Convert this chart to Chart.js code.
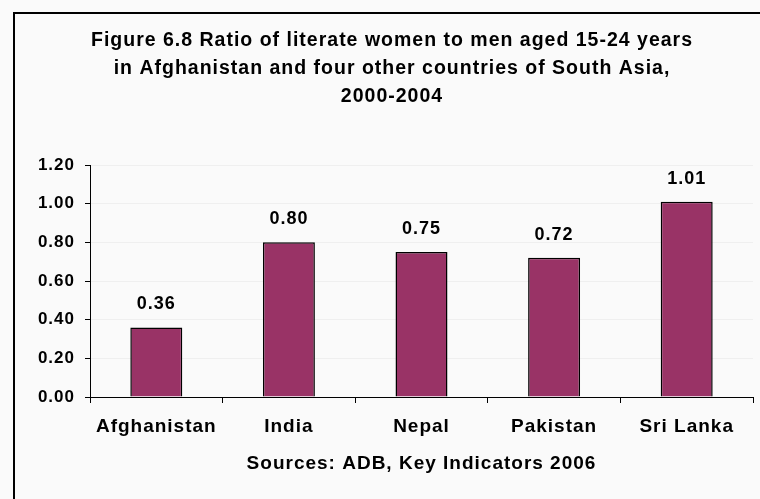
<!DOCTYPE html>
<html><head><meta charset="utf-8">
<script src="https://cdn.jsdelivr.net/npm/chart.js@4.4.1/dist/chart.umd.min.js"></script>
<style>html,body{margin:0;padding:0;background:#fafafa;} #wrap{position:relative;width:760px;height:499px;}</style>
</head><body><div id="wrap"><canvas id="c" width="760" height="499"></canvas></div>
<script>
const categories = ['Afghanistan', 'India', 'Nepal', 'Pakistan', 'Sri Lanka'];
const ratioValues = [0.36, 0.80, 0.75, 0.72, 1.01];
const yTickValues = [0, 0.2, 0.4, 0.6, 0.8, 1.0, 1.2];
const titleLines = [
  'Figure 6.8 Ratio of literate women to men aged 15-24 years',
  'in Afghanistan and four other countries of South Asia,',
  '2000-2004'
];
const sourceText = 'Sources: ADB, Key Indicators 2006';

const FONT = "'Liberation Sans', Arial, sans-serif";
const SPACING = '1px';

const framePlugin = {
  id: 'frame',
  beforeDraw(chart) {
    const ctx = chart.ctx;
    ctx.save();
    ctx.fillStyle = '#fafafa';
    ctx.fillRect(0, 0, chart.width, chart.height);
    ctx.strokeStyle = '#000';
    ctx.lineWidth = 2;
    ctx.strokeRect(14, 13, 900, 700);
    ctx.restore();
    ctx.letterSpacing = SPACING;
  }
};

const valueLabelPlugin = {
  id: 'valueLabels',
  afterDatasetsDraw(chart) {
    const ctx = chart.ctx;
    const meta = chart.getDatasetMeta(0);
    ctx.save();
    ctx.letterSpacing = SPACING;
    ctx.font = 'bold 18px ' + FONT;
    ctx.fillStyle = '#000';
    ctx.textAlign = 'center';
    ctx.textBaseline = 'middle';
    meta.data.forEach((el, i) => {
      const v = chart.data.datasets[0].data[i];
      ctx.fillText(v.toFixed(2), el.x, el.y - 23);
    });
    ctx.restore();
  }
};

new Chart(document.getElementById('c'), {
  type: 'bar',
  data: {
    labels: categories,
    datasets: [{
      data: ratioValues,
      backgroundColor: '#993366',
      borderColor: '#000',
      borderWidth: 1.5,
      barPercentage: 0.392,
      categoryPercentage: 1
    }]
  },
  plugins: [framePlugin, valueLabelPlugin],
  options: {
    responsive: false,
    animation: false,
    devicePixelRatio: 1,
    layout: { padding: { left: 31, right: 7, top: 27, bottom: 0 } },
    plugins: {
      legend: { display: false },
      tooltip: { enabled: false },
      title: {
        display: true,
        text: titleLines,
        color: '#000',
        font: { family: FONT, size: 19.5, weight: 'bold', lineHeight: 28 / 19.5 },
        padding: { top: 0, bottom: 54 }
      }
    },
    scales: {
      y: {
        min: 0, max: 1.2,
        afterFit(scale) { scale.width = 59; },
        afterBuildTicks(scale) { scale.ticks = yTickValues.map(v => ({ value: v })); },
        ticks: {
          color: '#000',
          padding: 10,
          font: { family: FONT, size: 17, weight: 'bold' },
          callback: v => Number(v).toFixed(2)
        },
        grid: { color: '#efefef', tickColor: '#000', tickLength: 5, lineWidth: 1 },
        border: { color: '#000', width: 1 }
      },
      x: {
        offset: true,
        afterFit(scale) { scale.height = 102; },
        grid: { offset: true, drawOnChartArea: false, tickColor: '#000', tickLength: 6 },
        border: { color: '#000', width: 1 },
        ticks: {
          color: '#000',
          padding: 12,
          font: { family: FONT, size: 19, weight: 'bold' }
        },
        title: {
          display: true,
          text: sourceText,
          color: '#000',
          font: { family: FONT, size: 19, weight: 'bold' },
          padding: { top: 4, bottom: 24 }
        }
      }
    }
  }
});
</script></body></html>
